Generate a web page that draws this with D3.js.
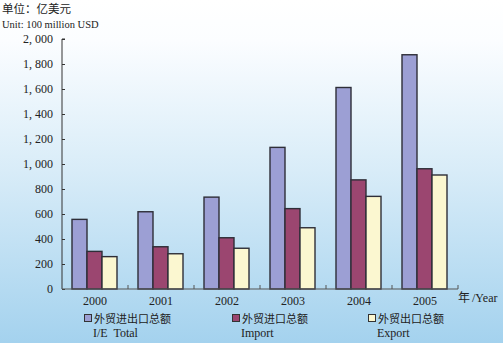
<!DOCTYPE html>
<html>
<head>
<meta charset="utf-8">
<script src="https://cdn.jsdelivr.net/npm/d3@7"></script>
<style>
  html, body { margin: 0; padding: 0; }
  svg { display: block; }
  .serif { font-family: "Liberation Serif", "DejaVu Serif", serif; fill: #222; }
  .cjk { font-family: "Noto Sans CJK SC", sans-serif; fill: #222; }
</style>
</head>
<body>
<svg></svg>
<script>
// Foreign trade figures, 100 million USD
const years = ["2000", "2001", "2002", "2003", "2004", "2005"];
const totalValues = [557, 618, 735, 1133, 1612, 1874];
const importValues = [301, 338, 410, 643, 873, 962];
const exportValues = [259, 282, 326, 490, 741, 912];
const yTicks = [0, 200, 400, 600, 800, 1000, 1200, 1400, 1600, 1800, 2000];

const seriesKeys = ["total", "import", "export"];
const seriesNames = ["外贸进出口总额", "外贸进口总额", "外贸出口总额"];
const seriesNamesEn = ["I/E  Total", "Import", "Export"];
const seriesColors = ["#9c9fd4", "#9b4670", "#fbf7d0"];

const w = 503;
const h = 343;

const svg = d3.select("svg")
  .attr("width", w)
  .attr("height", h);

// Background fades from white to pale blue
const grad = svg.append("defs").append("linearGradient")
  .attr("id", "bg")
  .attr("x1", 0).attr("y1", 0)
  .attr("x2", 0).attr("y2", 1);
grad.append("stop").attr("offset", "0%").attr("stop-color", "#ffffff");
grad.append("stop").attr("offset", "12%").attr("stop-color", "#fbfdff");
grad.append("stop").attr("offset", "50%").attr("stop-color", "#d8ecf8");
grad.append("stop").attr("offset", "100%").attr("stop-color", "#a4d2ee");

svg.append("rect")
  .attr("width", w)
  .attr("height", h)
  .attr("fill", "url(#bg)");

const rows = years.map((y, i) => ({
  year: y,
  total: totalValues[i],
  import: importValues[i],
  export: exportValues[i]
}));

const x0 = d3.scaleBand()
  .domain(years)
  .range([62, 458]);

const x1 = d3.scaleBand()
  .domain(seriesKeys)
  .range([10, 55]);

const y = d3.scaleLinear()
  .domain([0, 2000])
  .range([289, 39]);

// Bars
const groups = svg.append("g")
  .selectAll("g")
  .data(rows)
  .join("g")
  .attr("transform", (d) => `translate(${x0(d.year)},0)`);

groups.selectAll("rect")
  .data((d) => seriesKeys.map((k, j) => ({ key: k, value: d[k], color: seriesColors[j] })))
  .join("rect")
  .attr("x", (d) => x1(d.key))
  .attr("y", (d) => y(d.value))
  .attr("width", x1.bandwidth())
  .attr("height", (d) => y(0) - y(d.value))
  .attr("fill", (d) => d.color)
  .attr("stroke", "#2e2e38")
  .attr("stroke-width", 1.4);

// Y axis
const yAxis = svg.append("g")
  .attr("transform", "translate(62,0)")
  .call(d3.axisRight(y).tickValues(yTicks).tickSize(3).tickFormat(""));
yAxis.select(".domain").attr("stroke", "#333").attr("d", "M3,39H0V289");
yAxis.selectAll(".tick line").attr("stroke", "#333");

svg.append("g")
  .selectAll("text")
  .data(yTicks)
  .join("text")
  .attr("class", "serif")
  .attr("x", 53)
  .attr("y", (d) => y(d) + 4)
  .attr("text-anchor", "end")
  .attr("font-size", 12)
  .text((d) => d3.format(",")(d).replace(",", ", "));

// X axis with ticks between the year groups
const xAxis = svg.append("g").attr("transform", "translate(0,289)");
xAxis.append("line")
  .attr("x1", 62).attr("x2", 458)
  .attr("stroke", "#555").attr("stroke-width", 1.2);
xAxis.selectAll(".sep")
  .data(years)
  .join("line")
  .attr("class", "sep")
  .attr("x1", (d) => x0(d) + x0.bandwidth())
  .attr("x2", (d) => x0(d) + x0.bandwidth())
  .attr("y1", 0).attr("y2", -4)
  .attr("stroke", "#555");

svg.append("g")
  .selectAll("text")
  .data(years)
  .join("text")
  .attr("class", "serif")
  .attr("x", (d) => x0(d) + x0.bandwidth() / 2)
  .attr("y", 305)
  .attr("text-anchor", "middle")
  .attr("font-size", 12)
  .text((d) => d);

svg.append("text")
  .attr("class", "cjk")
  .attr("x", 458)
  .attr("y", 302)
  .attr("font-size", 12)
  .text("年");
svg.append("text")
  .attr("class", "serif")
  .attr("x", 472)
  .attr("y", 302)
  .attr("font-size", 12)
  .text("/Year");

// Unit labels
svg.append("text")
  .attr("class", "cjk")
  .attr("x", 2)
  .attr("y", 13)
  .attr("font-size", 11.5)
  .text("单位：亿美元");
svg.append("text")
  .attr("class", "serif")
  .attr("x", 2)
  .attr("y", 28)
  .attr("font-size", 10.5)
  .text("Unit: 100 million USD");

// Legend
const legendX = [84, 232, 368];
const legend = svg.append("g")
  .selectAll("g")
  .data(seriesKeys)
  .join("g")
  .attr("transform", (d, i) => `translate(${legendX[i]},0)`);

legend.append("rect")
  .attr("x", 0.5)
  .attr("y", 314.5)
  .attr("width", 7)
  .attr("height", 7)
  .attr("fill", (d, i) => seriesColors[i])
  .attr("stroke", "#333");

legend.append("text")
  .attr("class", "cjk")
  .attr("x", 10)
  .attr("y", 323)
  .attr("font-size", 11)
  .text((d, i) => seriesNames[i]);

legend.append("text")
  .attr("class", "serif")
  .attr("x", 9)
  .attr("y", 337)
  .attr("font-size", 12)
  .attr("xml:space", "preserve")
  .style("white-space", "pre")
  .text((d, i) => seriesNamesEn[i]);
</script>
</body>
</html>
